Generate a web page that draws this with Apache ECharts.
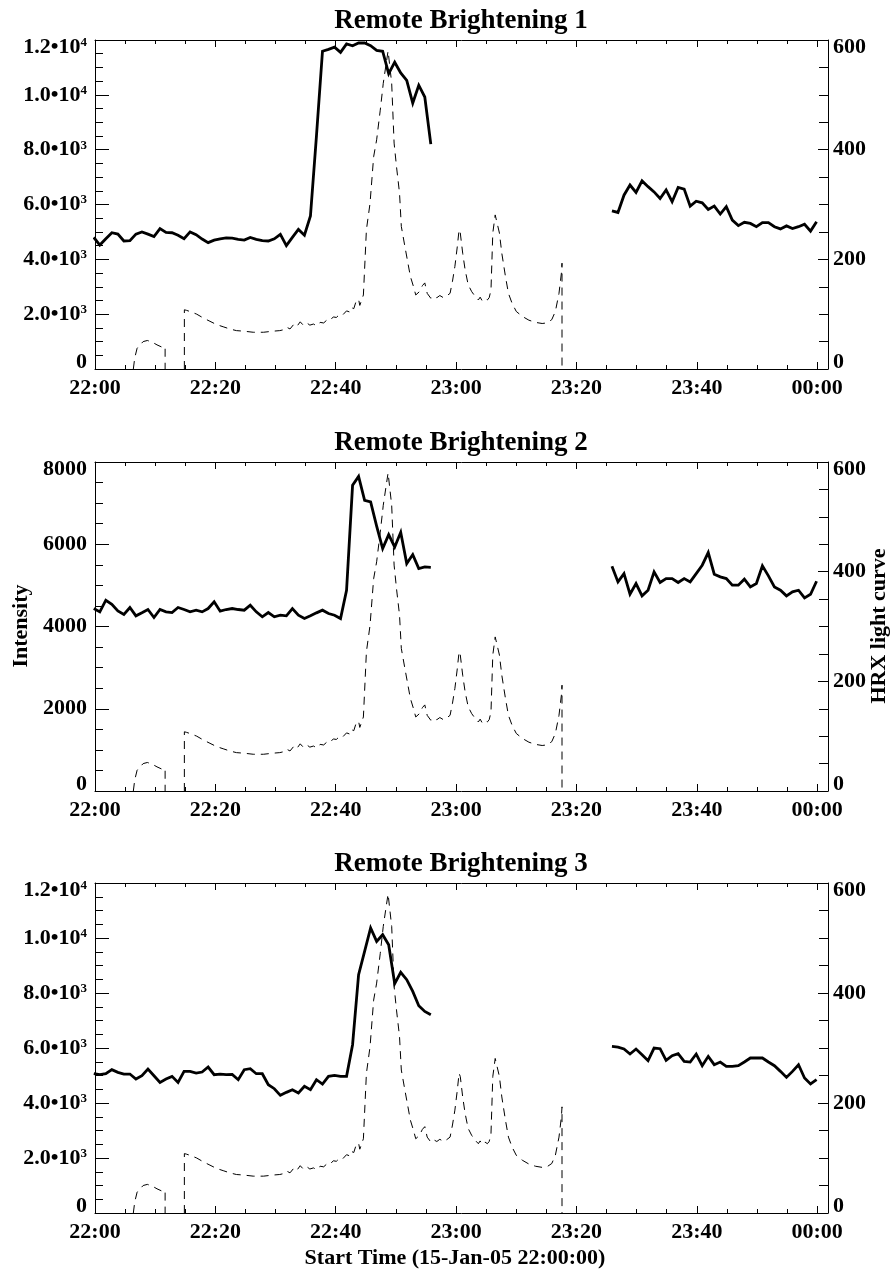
<!DOCTYPE html>
<html>
<head>
<meta charset="utf-8">
<title>Remote Brightening light curves</title>
<script src="https://cdn.jsdelivr.net/npm/echarts@6.0.0/dist/echarts.min.js"></script>
<style>
  html, body { margin: 0; padding: 0; background: #fff; }
  #main { width: 893px; height: 1273px; }
</style>
</head>
<body>
<div id="main"></div>
<script>
// time axis: minutes after 22:00 (15-Jan-05)
var xMax = 121.8;
var timeTicks = [0, 20, 40, 60, 80, 100, 120];

// intensity samples, ~1 min cadence, two observing windows
var seg1Start = -0.2, seg2Start = 85.9, cadence = 1.0;

var rb1Seg1 = [4800, 4520, 4750, 4970, 4920, 4670, 4680, 4920, 5000, 4920, 4830, 5120, 4980, 4970, 4880, 4750,
  5000, 4900, 4740, 4610, 4700, 4750, 4780, 4770, 4730, 4700, 4800, 4730, 4680, 4670, 4750, 4910, 4500, 4800,
  5090, 4880, 5580, 8500, 11590, 11660, 11740, 11550, 11860, 11790, 11890, 11890, 11790, 11620, 11590, 10770,
  11190, 10800, 10530, 9700, 10350, 9920, 8200];
var rb1Seg2 = [5770, 5710, 6340, 6710, 6440, 6860, 6650, 6460, 6220, 6530, 6100, 6620, 6560, 5940, 6120, 6060,
  5820, 5940, 5650, 5920, 5430, 5230, 5350, 5310, 5190, 5340, 5340, 5190, 5110, 5220, 5120, 5190, 5280, 5030, 5370];

var rb2Seg1 = [4437, 4356, 4639, 4542, 4380, 4292, 4461, 4259, 4332, 4413, 4219, 4413, 4356, 4340, 4461, 4413,
  4356, 4397, 4356, 4437, 4599, 4372, 4413, 4437, 4413, 4397, 4518, 4356, 4235, 4340, 4235, 4275, 4259, 4437,
  4275, 4194, 4259, 4332, 4397, 4316, 4275, 4194, 4882, 7433, 7651, 7068, 7028, 6440, 5895, 6235, 5934, 6290,
  5531, 5749, 5409, 5449, 5440];
var rb2Seg2 = [5465, 5085, 5287, 4785, 5044, 4745, 4882, 5328, 5069, 5166, 5166, 5069, 5166, 5085, 5287, 5490,
  5797, 5271, 5206, 5166, 5004, 5004, 5150, 4963, 5044, 5474, 5231, 4963, 4882, 4745, 4842, 4882, 4696, 4785, 5101];

var rb3Seg1 = [5065, 5029, 5065, 5211, 5113, 5053, 5053, 4872, 4993, 5236, 4993, 4750, 4872, 4969, 4750, 5150,
  5150, 5090, 5126, 5308, 5029, 5053, 5029, 5041, 4848, 5211, 5248, 5065, 5065, 4666, 4520, 4278, 4387, 4484,
  4363, 4605, 4484, 4848, 4690, 4969, 5005, 4969, 4969, 6120, 8665, 9513, 10363, 9877, 10120, 9756, 8338, 8750,
  8483, 8058, 7537, 7330, 7210];
var rb3Seg2 = [6058, 6034, 5962, 5781, 5962, 5756, 5538, 5999, 5975, 5550, 5720, 5793, 5514, 5490, 5781, 5357,
  5696, 5393, 5490, 5332, 5332, 5357, 5490, 5636, 5636, 5636, 5490, 5357, 5150, 4932, 5150, 5393, 4909, 4691, 4848];

// HRX light curve (same in every panel), two pieces
var hrxTimeA = [6.37, 6.6, 7.0, 7.5, 8.0, 8.7, 9.5, 10.3, 11.1, 11.65, 11.65];
var hrxA = [0, 20, 38, 44, 50, 52, 49, 44, 40, 41, 0];
var hrxTimeB = [14.85, 14.85, 15.2, 16.0, 16.9, 18.0, 19.1, 20.2, 21.3, 22.4, 23.5, 24.7, 26.3, 28.0, 29.6, 30.7,
  31.5, 31.9, 32.4, 33.0, 33.5, 34.1, 34.6, 35.2, 35.7, 36.3, 36.8, 37.4, 38.0, 38.5, 39.0, 39.6, 40.1, 40.7,
  41.2, 41.8, 42.3, 42.6, 43.0, 43.4, 43.8, 44.0, 44.6, 45.1, 45.7, 46.3, 46.8, 47.4, 47.9, 48.3, 48.7, 49.0,
  49.3, 49.7, 50.1, 50.6, 50.9, 51.5, 51.9, 52.4, 52.9, 53.3, 53.9, 54.4, 54.8, 55.2, 55.8, 56.3, 56.8, 57.3,
  57.9, 58.4, 59.0, 59.4, 59.8, 60.2, 60.5, 60.7, 61.1, 61.5, 62.0, 62.6, 63.2, 63.7, 64.0, 64.3, 64.8, 65.2,
  65.5, 65.8, 66.1, 66.5, 66.8, 67.2, 67.6, 68.2, 68.7, 69.3, 70.0, 71.0, 72.1, 73.2, 74.3, 75.1, 75.9, 76.5,
  77.1, 77.5, 77.6, 77.6];
var hrxB = [0, 108, 107, 104, 100, 93, 87, 81, 77, 73, 70, 69, 67, 67, 69, 70,
  72, 76, 73, 81, 77, 86, 80, 84, 80, 82, 79, 85, 84, 89, 88, 95, 94, 100,
  99, 106, 104, 112, 110, 124, 127, 116, 135, 254, 302, 387, 418, 472, 521, 551, 580, 582,
  521, 412, 369, 321, 260, 223, 199, 169, 151, 135, 141, 152, 157, 138, 129, 133, 130, 134,
  130, 133, 138, 160, 187, 223, 254, 248, 211, 181, 154, 141, 132, 126, 131, 125, 129, 126,
  130, 144, 248, 281, 283, 248, 211, 169, 138, 120, 105, 96, 89, 85, 83, 84, 90, 105,
  138, 175, 193, 0];

var titles = ['Remote Brightening 1', 'Remote Brightening 2', 'Remote Brightening 3'];
var intensity1 = [rb1Seg1, rb2Seg1, rb3Seg1];
var intensity2 = [rb1Seg2, rb2Seg2, rb3Seg2];
var leftMax = [12000, 8000, 12000];
var leftStep = [2000, 2000, 2000];
var rightMax = 600, rightStep = 200;

// ---------------------------------------------------------------
var FONT = '"Liberation Serif", "Times New Roman", serif';
var gridTops = [40, 462, 883];
var gridHeights = [329, 329, 330];
var gridLeft = 95, gridWidth = 733;

function pad(n) { return (n < 10 ? '0' : '') + n; }
function timeLabel(v) {
  if (timeTicks.indexOf(Math.round(v * 1000) / 1000) < 0) return '';
  var total = 22 * 60 + v;
  return pad(Math.floor(total / 60) % 24) + ':' + pad(total % 60);
}
// end labels sit a little inside the frame, like the IDL plot
function place(text, v, max) {
  if (v === max) return '{gap| }\n' + text;
  if (v === 0) return text + '\n{gap| }';
  return text;
}
function sciLabel(max) {
  return function (v) {
    if (v === 0) return place('{n|0}', v, max);
    var e = Math.floor(Math.log10(v) + 1e-9);
    var m = (v / Math.pow(10, e)).toFixed(1);
    return place('{n|' + m + '\u202210}{s|' + e + '}', v, max);
  };
}
function plainLabel(max) {
  return function (v) { return place('{n|' + v + '}', v, max); };
}
var rich = {
  n: { fontFamily: FONT, fontWeight: 'bold', fontSize: 22, lineHeight: 22, color: '#000' },
  s: { fontFamily: FONT, fontWeight: 'bold', fontSize: 13, lineHeight: 10, color: '#000', verticalAlign: 'top' },
  gap: { fontSize: 1, lineHeight: 14 }
};
var black = { color: '#000', width: 1 };

function pairs(xs, ys) { return xs.map(function (x, i) { return [x, ys[i]]; }); }
function times(start, n) { var out = []; for (var k = 0; k < n; k++) out.push(start + k * cadence); return out; }

var grids = [], xAxes = [], yAxes = [], series = [], graphics = [];
for (var g = 0; g < 3; g++) {
  grids.push({ left: gridLeft, top: gridTops[g], width: gridWidth, height: gridHeights[g], outerBoundsMode: 'none' });
  ['bottom', 'top'].forEach(function (pos) {
    xAxes.push({
      gridIndex: g, type: 'value', position: pos, min: 0, max: xMax, interval: 20,
      axisLine: { show: true, onZero: false, lineStyle: black },
      axisTick: { show: true, inside: true, length: 7, lineStyle: black },
      axisLabel: pos === 'bottom' ? { show: true, formatter: timeLabel, margin: 8, fontFamily: FONT,
        fontWeight: 'bold', fontSize: 22, color: '#000', showMinLabel: true, showMaxLabel: true } : { show: false },
      splitLine: { show: false }
    });
    xAxes.push({
      gridIndex: g, type: 'value', position: pos, min: 0, max: xMax, interval: 5,
      axisLine: { show: false, onZero: false },
      axisTick: { show: true, inside: true, length: 4, lineStyle: black },
      axisLabel: { show: false }, splitLine: { show: false }
    });
  });
  yAxes.push({
    gridIndex: g, type: 'value', position: 'left', min: 0, max: leftMax[g], interval: leftStep[g],
    axisLine: { show: true, onZero: false, lineStyle: black },
    axisTick: { show: true, inside: true, length: 14, lineStyle: black },
    minorTick: { show: true, splitNumber: 4, length: 8, lineStyle: black },
    axisLabel: { formatter: leftMax[g] > 10000 ? sciLabel(leftMax[g]) : plainLabel(leftMax[g]), margin: 8, rich: rich,
      showMinLabel: true, showMaxLabel: true },
    splitLine: { show: false }, minorSplitLine: { show: false }
  });
  yAxes.push({
    gridIndex: g, type: 'value', position: 'right', min: 0, max: rightMax, interval: rightStep,
    axisLine: { show: true, onZero: false, lineStyle: black },
    axisTick: { show: true, inside: true, length: 10, lineStyle: black },
    minorTick: { show: true, splitNumber: 4, length: 9, lineStyle: black },
    axisLabel: { formatter: plainLabel(rightMax), margin: 5, rich: rich, showMinLabel: true, showMaxLabel: true },
    splitLine: { show: false }, minorSplitLine: { show: false }
  });

  var xi = g * 4, yl = g * 2, yr = g * 2 + 1;
  var dashed = { color: '#000', width: 1, type: [8, 6] };
  var solid = { color: '#000', width: 2.8, join: 'miter' };
  series.push({ type: 'line', xAxisIndex: xi, yAxisIndex: yr, data: pairs(hrxTimeA, hrxA), symbol: 'none', lineStyle: dashed, silent: true });
  series.push({ type: 'line', xAxisIndex: xi, yAxisIndex: yr, data: pairs(hrxTimeB, hrxB), symbol: 'none', lineStyle: dashed, silent: true });
  series.push({ type: 'line', xAxisIndex: xi, yAxisIndex: yl, data: pairs(times(seg1Start, intensity1[g].length), intensity1[g]), symbol: 'none', lineStyle: solid, silent: true });
  series.push({ type: 'line', xAxisIndex: xi, yAxisIndex: yl, data: pairs(times(seg2Start, intensity2[g].length), intensity2[g]), symbol: 'none', lineStyle: solid, silent: true });
}

function textEl(str, x, y, size, rot) {
  return {
    type: 'text', x: x, y: y, rotation: rot || 0, silent: true,
    style: { text: str, font: 'bold ' + size + 'px ' + FONT, fill: '#000',
      align: 'center', verticalAlign: 'middle', textAlign: 'center', textVerticalAlign: 'middle' }
  };
}
graphics.push(textEl(titles[0], 461, 21, 27));
graphics.push(textEl(titles[1], 461, 443, 27));
graphics.push(textEl(titles[2], 461, 864, 27));
graphics.push(textEl('Intensity', 21, 626, 22, Math.PI / 2));
graphics.push(textEl('HRX light curve', 879, 626, 22, Math.PI / 2));
graphics.push(textEl('Start Time (15-Jan-05 22:00:00)', 455, 1258, 22));

var chart = echarts.init(document.getElementById('main'), null, { renderer: 'canvas' });
chart.setOption({
  backgroundColor: '#fff',
  animation: false,
  grid: grids,
  xAxis: xAxes,
  yAxis: yAxes,
  series: series,
  graphic: graphics
});
</script>
</body>
</html>
